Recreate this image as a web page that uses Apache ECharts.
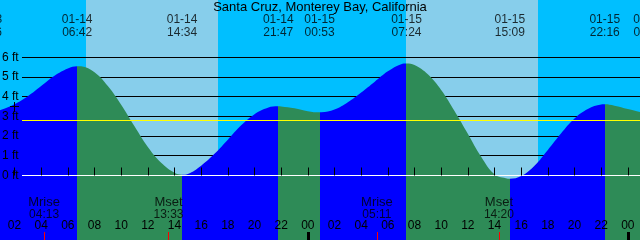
<!DOCTYPE html>
<html><head><meta charset="utf-8">
<script src="https://cdn.jsdelivr.net/npm/echarts@6/dist/echarts.min.js"></script>
<style>html,body{margin:0;padding:0;background:#fff}#c{width:640px;height:240px}</style>
</head><body><div id="c"></div>
<script>
// ---------------- data ----------------
const chartTitle = 'Santa Cruz, Monterey Bay, California';
// hours since 01-14 00:00 and tide height (ft)
const sampleHours = [0,1,2,3,4,5,6,7,8,9,10,11,12,13,14,15,16,17,18,19,20,21,22,23,24,25,26,27,28,29,30,31,32,33,34,35,36,37,38,39,40,41,42,43,44,45,46,47,48,49,50];
const sampleHeights = [3.22,3.34,3.62,4.03,4.55,5.07,5.44,5.55,5.25,4.55,3.60,2.50,1.45,0.65,0.14,0.08,0.50,1.10,1.82,2.55,3.12,3.45,3.51,3.42,3.27,3.21,3.35,3.72,4.22,4.76,5.30,5.66,5.62,5.15,4.35,3.28,2.12,0.95,0.06,-0.16,-0.03,0.50,1.30,2.15,2.90,3.38,3.61,3.55,3.38,3.22,3.19];
// high / low tide events
const tideEventTimes = ['01-13 23:56','01-14 06:42','01-14 14:34','01-14 21:47','01-15 00:53','01-15 07:24','01-15 15:09','01-15 22:16','01-16 01:33'];
const tideEventHeights = [3.20,5.56,0.04,3.52,3.21,5.70,-0.17,3.62,3.19];
// sun and moon
const sunriseTimes = ['01-14 07:20','01-15 07:20'];
const sunsetTimes = ['01-14 17:14','01-15 17:14'];
const moonEventNames = ['Mrise','Mset','Mrise','Mset'];
const moonEventTimes = ['01-14 04:13','01-14 13:33','01-15 05:11','01-15 14:20'];
// axis levels
const levelTicks = [0,1,2,3,4,5,6];
const meanSeaLevel = 2.80;
const markerTime = '01-14 02:00';
const markerLevel = 3.5;

// ---------------- helpers ----------------
function toHours(s){
  const [md, hm] = s.split(' ');
  const day = +md.split('-')[1];
  const [H, M] = hm.split(':').map(Number);
  return (day - 14) * 24 + H + M / 60;
}
const FONT = '"Liberation Sans", Arial, sans-serif';
const C = {night:'#00BFFF', day:'#87CEEB', flood:'#0000FF', ebb:'#2E8B57', datum:'#FFFFFF', msl:'#FFFF00', fg:'#000000', mark:'#FF0000'};
const X_MIN = 0, X_MAX = 50;
const Y_MIN = -3.280, Y_MAX = 8.924;

// tide curve points (samples + extremes)
const evH = tideEventTimes.map(toHours);
const curve = sampleHours.map((h, i) => [h, sampleHeights[i]]);
evH.forEach((h, i) => { if (h > X_MIN && h < X_MAX) curve.push([h, tideEventHeights[i]]); });
curve.sort((a, b) => a[0] - b[0]);

// rising / falling colour pieces
const pieces = [];
for (let i = 0; i < evH.length - 1; i++) {
  const p = {color: tideEventHeights[i + 1] > tideEventHeights[i] ? C.flood : C.ebb};
  if (i > 0) p.gte = evH[i];
  p.lt = evH[i + 1];
  pieces.push(p);
}
pieces.push({gte: evH[evH.length - 1], color: C.flood});

// day / night bands
const sr = sunriseTimes.map(toHours), ss = sunsetTimes.map(toHours);
const bands = [[X_MIN, sr[0], 0], [sr[0], ss[0], 1], [ss[0], sr[1], 0], [sr[1], ss[1], 1], [ss[1], X_MAX, 0]];

// annotations
const annot = [];
tideEventTimes.forEach((t, i) => {
  const [md, hm] = t.split(' ');
  annot.push([evH[i], 26.3, md + '\n' + hm]);
});
moonEventTimes.forEach((t, i) => {
  annot.push([toHours(t), 208.3, '{n|' + moonEventNames[i] + '}\n' + t.split(' ')[1]]);
});

const chart = echarts.init(document.getElementById('c'), null, {renderer: 'canvas'});
const pad2 = v => String(((v % 24) + 24) % 24).padStart(2, '0');

chart.setOption({
  animation: false,
  backgroundColor: '#fff',
  title: {text: chartTitle, left: 'center', top: 1, padding: 0,
    textStyle: {fontSize: 13, fontWeight: 'normal', color: C.fg, fontFamily: FONT}},
  grid: {left: -12.167, top: 0, width: 666.667, height: 240, containLabel: false, outerBoundsMode: 'none'},
  xAxis: {type: 'value', min: X_MIN, max: X_MAX, interval: 2, z: 10,
    axisLine: {show: false}, splitLine: {show: false},
    axisTick: {show: true, inside: true, length: 8, lineStyle: {color: C.fg, width: 1}},
    axisLabel: {show: true, inside: true, margin: 8, color: C.fg, fontSize: 12, fontFamily: FONT,
      formatter: pad2, showMinLabel: true, showMaxLabel: true, hideOverlap: false}},
  yAxis: [
    {type: 'value', min: Y_MIN, max: Y_MAX, show: false},
    {type: 'value', min: 0, max: 240, inverse: true, show: false}
  ],
  visualMap: {type: 'piecewise', show: false, dimension: 0, seriesIndex: 2, pieces: pieces},
  series: [
    { // day/night bands
      type: 'custom', z: 0, silent: true, data: bands,
      renderItem: (p, api) => {
        const a = api.coord([api.value(0), Y_MAX]);
        const b = api.coord([api.value(1), Y_MIN]);
        const x0 = Math.round(a[0]), x1 = Math.round(b[0]);
        return {type: 'rect', shape: {x: x0, y: 0, width: x1 - x0, height: 240},
          style: {fill: api.value(2) ? C.day : C.night}};
      }
    },
    { // grid lines
      type: 'custom', z: 1, silent: true,
      data: levelTicks.filter(v => v !== 0).map(v => [0, v]),
      renderItem: (p, api) => {
        const y = Math.floor(api.coord([0, api.value(1)])[1]) + 0.5;
        return {type: 'line', shape: {x1: 22, y1: y, x2: 640, y2: y}, style: {stroke: C.fg, lineWidth: 1}};
      }
    },
    { // tide
      type: 'line', z: 2, data: curve, smooth: 0.4, symbol: 'none', silent: true,
      lineStyle: {width: 0}, areaStyle: {opacity: 1, origin: 'start'}
    },
    { // datum and MSL
      type: 'custom', z: 3, silent: true,
      data: [[0, 0, 0], [0, meanSeaLevel, 1]],
      renderItem: (p, api) => {
        const y = Math.floor(api.coord([0, api.value(1)])[1]) + 0.5;
        return {type: 'line', shape: {x1: 22, y1: y, x2: 640, y2: y},
          style: {stroke: api.value(2) ? C.msl : C.datum, lineWidth: 1}};
      }
    },
    { // level labels
      type: 'custom', z: 4, silent: true,
      data: levelTicks.map(v => [0, v]),
      renderItem: (p, api) => {
        const y = api.coord([0, api.value(1)])[1];
        return {type: 'text', x: 2, y: y,
          style: {text: api.value(1) + ' ft', fill: C.fg, font: '12px ' + FONT, textAlign: 'left', textVerticalAlign: 'middle'}};
      }
    },
    { // midnight + moon ticks
      type: 'custom', z: 11, silent: true,
      data: [[24, 0, 0], [48, 0, 0]].concat(moonEventTimes.map(t => [toHours(t), 0, 1])),
      renderItem: (p, api) => {
        const x = api.coord([api.value(0), 0])[0];
        const moon = api.value(2) === 1;
        const w = moon ? 1 : 3;
        const x0 = moon ? Math.round(x) : Math.round(x) - 1;
        return {type: 'rect', shape: {x: x0, y: 232, width: w, height: 8}, style: {fill: moon ? C.mark : C.fg}};
      }
    },
    { // plus marker
      type: 'custom', z: 5, silent: true,
      data: [[toHours(markerTime), markerLevel]],
      renderItem: (p, api) => {
        const c = api.coord([api.value(0), api.value(1)]);
        const x = Math.floor(c[0]) + 0.5, y = Math.floor(c[1]) + 0.5;
        return {type: 'group', children: [
          {type: 'line', shape: {x1: x - 4.5, y1: y, x2: x + 4.5, y2: y}, style: {stroke: C.fg, lineWidth: 1}},
          {type: 'line', shape: {x1: x, y1: y - 4.5, x2: x, y2: y + 4.5}, style: {stroke: C.fg, lineWidth: 1}}
        ]};
      }
    },
    { // annotations
      type: 'scatter', yAxisIndex: 1, z: 6, clip: false, silent: true,
      data: annot, symbolSize: 1, itemStyle: {color: 'rgba(0,0,0,0)'},
      label: {show: true, position: 'inside', formatter: p => p.data[2], color: C.fg,
        fontSize: 12, fontFamily: FONT, lineHeight: 12.3, align: 'center',
        rich: {n: {fontSize: 13, fontFamily: FONT, color: C.fg, lineHeight: 12.3}}}
    }
  ]
});
</script></body></html>
